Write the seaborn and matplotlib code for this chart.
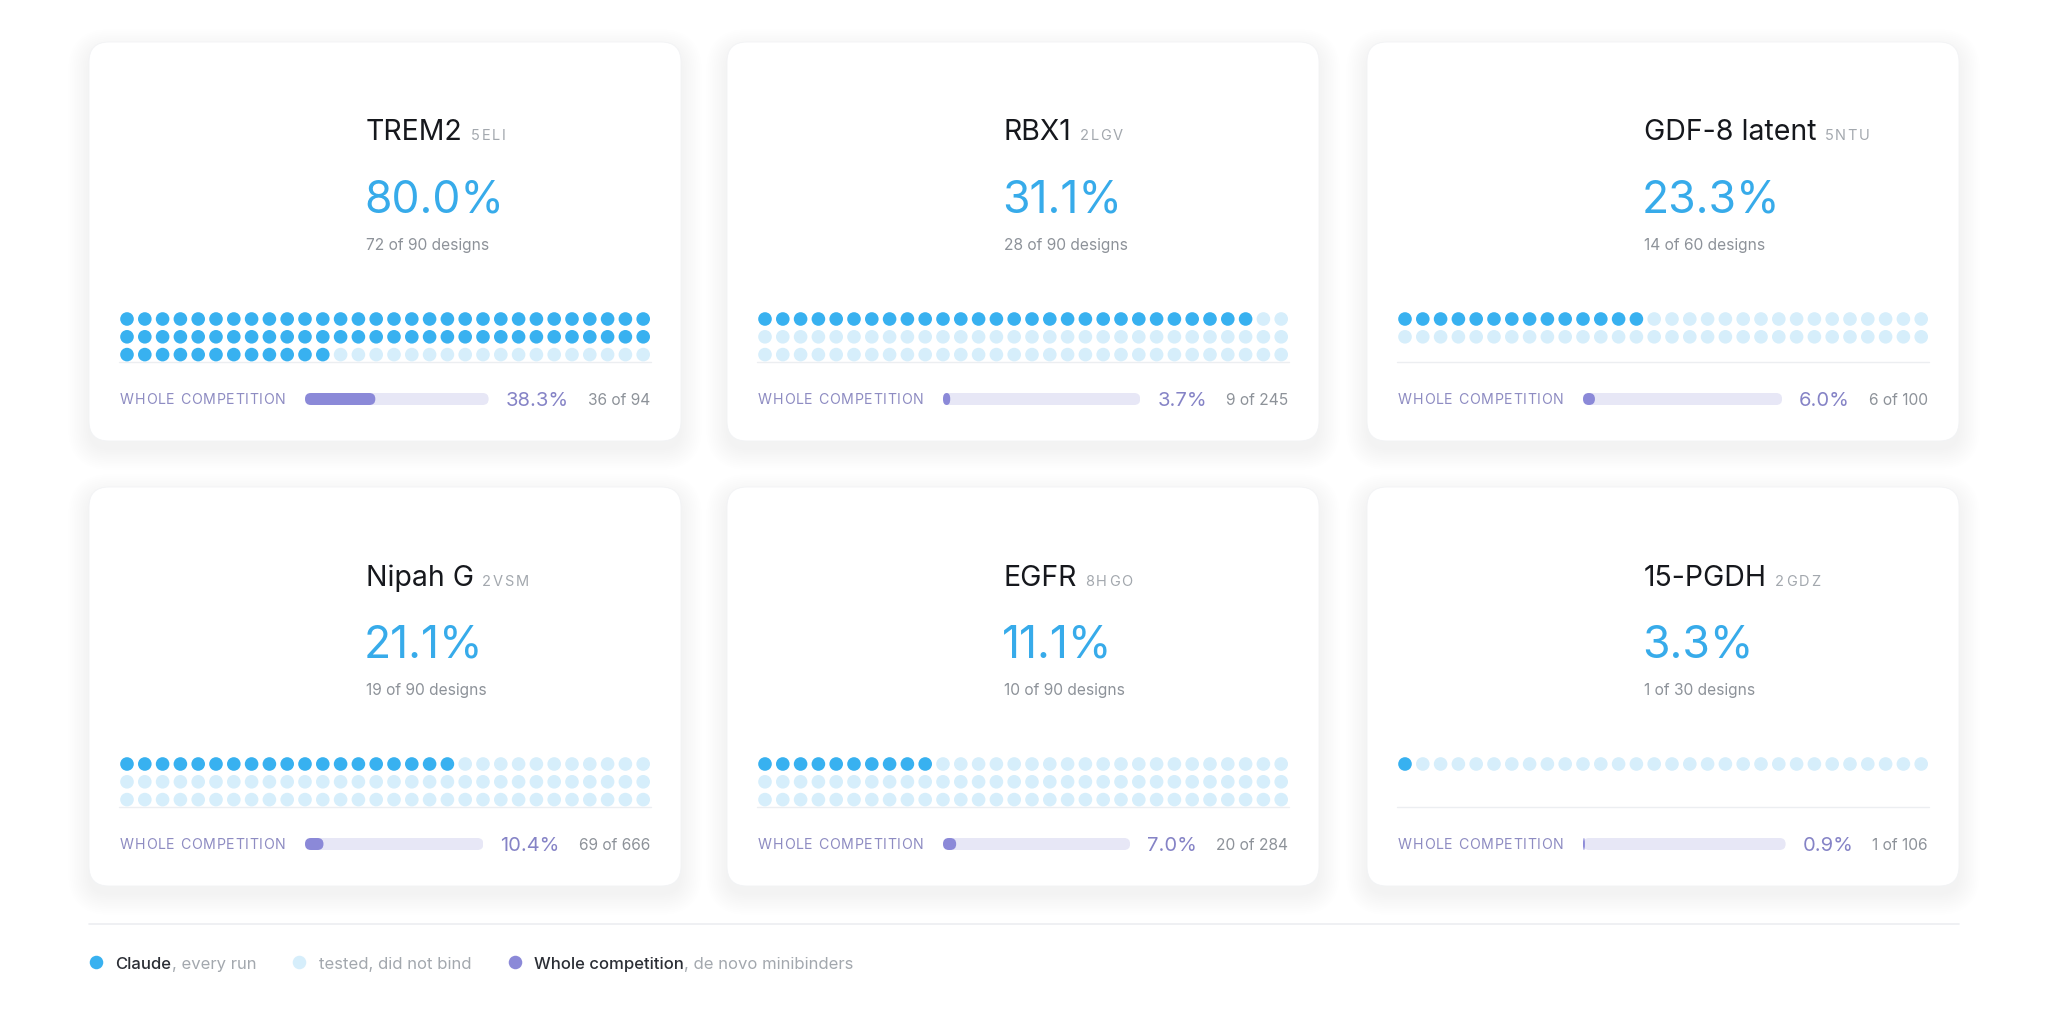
import numpy as np
import pandas as pd
import matplotlib.pyplot as plt
from matplotlib.patches import FancyBboxPatch
import seaborn as sns

sns.set_theme(style="white")
plt.rcParams["font.family"] = ["Inter", "DejaVu Sans"]

# ── data ──
targets = ["TREM2", "RBX1", "GDF-8 latent", "Nipah G", "EGFR", "15-PGDH"]
pdb_ids = ["5ELI", "2LGV", "5NTU", "2VSM", "8HGO", "2GDZ"]
claude_hits = [72, 28, 14, 19, 10, 1]
claude_designs = [90, 90, 60, 90, 90, 30]
comp_hits = [36, 9, 6, 69, 20, 1]
comp_designs = [94, 245, 100, 666, 284, 106]
dots_per_row = 30

# ── colours ──
BLUE = "#38b1f0"
BLUE_LIGHT = "#d6eefb"
BLUE_TEXT = "#37abea"
PURPLE = "#8b89d8"
PURPLE_TRACK = "#e7e7f6"
PURPLE_TEXT = "#8583c6"
LABEL_PURPLE = "#8e8cc2"
DARK = "#16181d"
GRAY = "#8d9299"
GRAY_LIGHT = "#a3a8ae"
RULE = "#eceef1"

W, H = 2048, 1025
fig = plt.figure(figsize=(W / 100, H / 100), dpi=100)
fig.patch.set_facecolor("white")
bg = fig.add_axes([0, 0, 1, 1], zorder=0)
bg.set_xlim(0, W)
bg.set_ylim(H, 0)
bg.axis("off")
renderer = fig.canvas.get_renderer()


def px_axes(x0, y0, w, h):
    """Axes placed by a top-left pixel box."""
    ax = fig.add_axes([x0 / W, 1 - (y0 + h) / H, w / W, h / H], zorder=2)
    ax.set_facecolor("none")
    ax.axis("off")
    return ax


def text_width(t):
    return t.get_window_extent(renderer=renderer).width


def spaced_text(x, y, s, spacing, **kw):
    """Left aligned text with extra tracking between letters."""
    for ch in s:
        t = bg.text(x, y, ch, va="baseline", ha="left", zorder=3, **kw)
        x += (text_width(t) if ch != " " else text_width(bg.text(0, 0, "n", alpha=0, **kw)) * 0.5) + spacing
    return x


def round_bars(ax, px_w, px_h, radius=6):
    """Swap the plain bars for pill shaped ones."""
    for bar in list(ax.patches):
        x, y = bar.get_x(), bar.get_y()
        w, h = bar.get_width(), bar.get_height()
        wpx = max(w * px_w, 0.5)
        r_px = min(radius, wpx / 2)
        rx = r_px / px_w
        ry = 0.5 if wpx < 2 * radius else r_px / px_h
        pill = FancyBboxPatch((x, y), w, h,
                              boxstyle=f"round,pad=0,rounding_size={rx}",
                              mutation_aspect=ry / rx,
                              facecolor=bar.get_facecolor(), edgecolor="none")
        bar.remove()
        ax.add_patch(pill)


CARD_X = [89, 727, 1367]
CARD_Y = [42, 487]
CARD_W, CARD_H = 592, 399
DOT_STEP = 17.8

for i, name in enumerate(targets):
    cx = CARD_X[i % 3]
    cy = CARD_Y[i // 3]

    # card shadow + body
    for k in range(12):
        grow = 1 + k * 1.8
        bg.add_patch(FancyBboxPatch((cx - grow, cy - grow + 8), CARD_W + 2 * grow,
                                    CARD_H + 2 * grow,
                                    boxstyle=f"round,pad=0,rounding_size={20 + grow}",
                                    facecolor="#1a2030", edgecolor="none",
                                    alpha=0.0045, zorder=1))
    bg.add_patch(FancyBboxPatch((cx, cy), CARD_W, CARD_H,
                                boxstyle="round,pad=0,rounding_size=20",
                                facecolor="white", edgecolor="#f2f3f5",
                                linewidth=0.6, zorder=2))

    # header texts
    tx = cx + 277
    t = bg.text(tx, cy + 98.5, name, fontsize=20.5, color=DARK,
                va="baseline", ha="left", zorder=3)
    spaced_text(tx + text_width(t) + 8, cy + 98.5, pdb_ids[i], 1.8,
                fontsize=10.5, color=GRAY_LIGHT)
    rate = claude_hits[i] / claude_designs[i] * 100
    bg.text(tx - 2, cy + 170.5, f"{rate:.1f}%", fontsize=32, color=BLUE_TEXT,
            va="baseline", ha="left", zorder=3)
    bg.text(tx, cy + 208, f"{claude_hits[i]} of {claude_designs[i]} designs",
            fontsize=11.2, color=GRAY, va="baseline", ha="left", zorder=3)

    # dot grid, one dot per design
    n_rows = claude_designs[i] // dots_per_row
    idx = np.arange(claude_designs[i])
    grid = pd.DataFrame({
        "col": idx % dots_per_row,
        "row": idx // dots_per_row,
        "status": np.where(idx < claude_hits[i], "bound", "not bound"),
    })
    gx0 = cx + 38 - DOT_STEP / 2
    gy0 = cy + 277 - DOT_STEP / 2
    dax = px_axes(gx0, gy0, DOT_STEP * dots_per_row, DOT_STEP * n_rows)
    sns.scatterplot(data=grid, x="col", y="row", hue="status",
                    palette={"bound": BLUE, "not bound": BLUE_LIGHT},
                    s=96, linewidth=0, legend=False, ax=dax)
    dax.set_xlim(-0.5, dots_per_row - 0.5)
    dax.set_ylim(n_rows - 0.5, -0.5)
    dax.axis("off")

    # thin rule under the grid
    bg.plot([cx + 30, cx + 562], [cy + 320, cy + 320], color=RULE, lw=1, zorder=3)

    # whole competition row
    spaced_text(cx + 31, cy + 362, "WHOLE COMPETITION", 0.7,
                fontsize=10.2, color=LABEL_PURPLE)
    cnt = bg.text(cx + 561, cy + 363, f"{comp_hits[i]} of {comp_designs[i]}",
                  fontsize=11.2, color=GRAY, va="baseline", ha="right", zorder=3)
    pct_right = cx + 561 - text_width(cnt) - 19
    comp_rate = comp_hits[i] / comp_designs[i] * 100
    pct = bg.text(pct_right, cy + 364, f"{comp_rate:.1f}%", fontsize=14.5,
                  color=PURPLE_TEXT, va="baseline", ha="right", zorder=3)
    bar_left = cx + 216
    bar_right = pct_right - text_width(pct) - 17
    bar_w, bar_h = bar_right - bar_left, 12
    bax = px_axes(bar_left, cy + 357 - bar_h / 2, bar_w, bar_h)
    bax.barh([0], [1.0], height=1, color=PURPLE_TRACK, left=0)
    bax.barh([0], [comp_rate / 100], height=1, color=PURPLE, left=0)
    bax.set_xlim(0, 1)
    bax.set_ylim(-0.5, 0.5)
    round_bars(bax, bar_w, bar_h)

# ── legend strip ──
bg.plot([89, 1959], [924, 924], color=RULE, lw=1.2, zorder=3)
legend_items = [
    (BLUE, "Claude", ", every run"),
    (BLUE_LIGHT, "", "tested, did not bind"),
    (PURPLE, "Whole competition", ", de novo minibinders"),
]
lx, ly = 95.5, 963
for colour, strong, rest in legend_items:
    bg.scatter([lx], [ly - 1], s=95, color=colour, linewidth=0, zorder=3)
    x = lx + 20
    if strong:
        t = bg.text(x, ly + 6, strong, fontsize=12, color="#2b2e35",
                    fontweight="medium", va="baseline", ha="left", zorder=3)
        x += text_width(t)
    t = bg.text(x, ly + 6, rest, fontsize=12, color=GRAY_LIGHT,
                va="baseline", ha="left", zorder=3)
    x += text_width(t)
    lx = x + 43

fig.savefig("out.png", dpi=100)
